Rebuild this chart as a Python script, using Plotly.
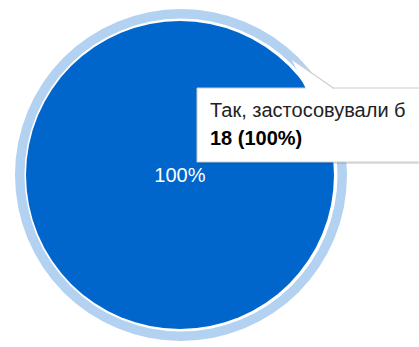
import plotly.graph_objects as go

# ---- data ----
labels = ["Так, застосовували б"]
values = [18]
colors = ["#0066CC"]
ring_color = "#B3D1F0"

W, H = 419, 347
FONT = "Arial, Liberation Sans, sans-serif"

def px(x):
    return x / W

def py(y):
    return (H - y) / H

total = sum(values)
pct = round(100 * values[0] / total)

fig = go.Figure()

# highlight ring (hover ring around slice)
cx_r, cy_r, r_out, r_in = 181, 175, 166, 156.5
fig.add_trace(go.Pie(
    labels=labels, values=values, hole=r_in / r_out,
    marker=dict(colors=[ring_color], line=dict(width=0)),
    textinfo="none", hoverinfo="skip", sort=False,
    domain=dict(x=[px(cx_r - r_out), px(cx_r + r_out)],
                y=[py(cy_r + r_out), py(cy_r - r_out)]),
))

# main pie
cx, cy, r = 180, 175, 154
fig.add_trace(go.Pie(
    labels=labels, values=values,
    marker=dict(colors=colors, line=dict(width=0)),
    textinfo="percent", textposition="inside",
    insidetextorientation="horizontal",
    textfont=dict(family=FONT, size=20, color="#ffffff"),
    hoverinfo="skip", sort=False,
    domain=dict(x=[px(cx - r), px(cx + r)],
                y=[py(cy + r), py(cy - r)]),
))

# tooltip box
bx0, by0, bx1, by1 = 197, 88, 440, 162
shapes = [
    # shadow
    dict(type="rect", xref="paper", yref="paper",
         x0=px(bx0 + 1), x1=px(bx1 + 1), y0=py(by1 + 2), y1=py(by0 + 1),
         fillcolor="rgba(0,0,0,0.12)", line=dict(width=0), layer="above"),
    dict(type="rect", xref="paper", yref="paper",
         x0=px(bx0), x1=px(bx1), y0=py(by1), y1=py(by0),
         fillcolor="white", line=dict(color="#cccccc", width=1), layer="above"),
    # pointer
    dict(type="path", xref="paper", yref="paper",
         path=f"M {px(292)},{py(60)} L {px(306)},{py(89)} L {px(334)},{py(89)} Z",
         fillcolor="white", line=dict(width=0), layer="above"),
    dict(type="line", xref="paper", yref="paper",
         x0=px(293), y0=py(60), x1=px(334), y1=py(88.5),
         line=dict(color="#d0d0d0", width=1.2), layer="above"),
]

annotations = [
    dict(text=labels[0], xref="paper", yref="paper",
         x=px(208), y=py(110), xanchor="left", yanchor="middle",
         showarrow=False, font=dict(family=FONT, size=20, color="#222222")),
    dict(text=f"<b>{values[0]} ({pct}%)</b>", xref="paper", yref="paper",
         x=px(208), y=py(138), xanchor="left", yanchor="middle",
         showarrow=False, font=dict(family=FONT, size=20, color="#000000")),
]

fig.update_layout(
    width=W, height=H,
    margin=dict(l=0, r=0, t=0, b=0),
    paper_bgcolor="white", plot_bgcolor="white",
    showlegend=False,
    shapes=shapes, annotations=annotations,
)

fig.write_html("out.html")
